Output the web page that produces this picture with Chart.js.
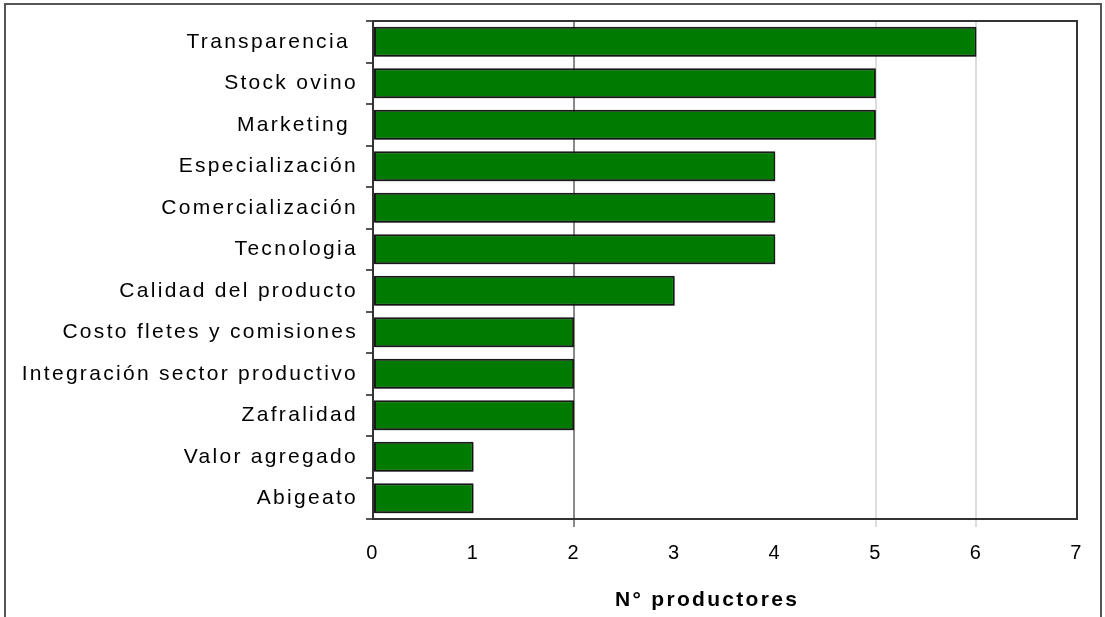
<!DOCTYPE html>
<html>
<head>
<meta charset="utf-8">
<script src="https://cdn.jsdelivr.net/npm/chart.js@4/dist/chart.umd.min.js"></script>
<style>
html,body{margin:0;padding:0;background:#fff;}
#wrap{width:1105px;height:617px;position:relative;}
</style>
</head>
<body>
<div id="wrap"><canvas id="c" width="1105" height="617"></canvas></div>
<script>
const categories = ["Transparencia ","Stock ovino","Marketing ","Especialización","Comercialización","Tecnologia","Calidad del producto","Costo fletes y comisiones","Integración sector productivo","Zafralidad","Valor agregado","Abigeato"];
const productores = [6,5,5,4,4,4,3,2,2,2,1,1];
const xTicks = [0,1,2,3,4,5,6,7];
const axisTitle = "N° productores";

const FONT = 'Liberation Sans, Arial, sans-serif';

const framePlugin = {
  id: 'frame',
  beforeDraw(chart) {
    chart.ctx.letterSpacing = '2.3px';
  },
  beforeDatasetsDraw(chart) {
    const ctx = chart.ctx;
    ctx.save();
    ctx.shadowColor = 'rgba(0,0,0,0.35)';
    ctx.shadowBlur = 2;
    ctx.shadowOffsetX = 1;
    ctx.shadowOffsetY = 1;
  },
  afterDatasetsDraw(chart) {
    chart.ctx.restore();
  },
  afterDraw(chart) {
    const ctx = chart.ctx;
    const a = chart.chartArea;
    ctx.save();
    ctx.strokeStyle = '#333';
    ctx.lineWidth = 2;
    ctx.strokeRect(a.left, a.top, a.right - a.left, a.bottom - a.top);
    ctx.strokeStyle = '#555';
    ctx.lineWidth = 2;
    ctx.beginPath();
    ctx.moveTo(5, 617);
    ctx.lineTo(5, 4);
    ctx.lineTo(1101, 4);
    ctx.lineTo(1101, 617);
    ctx.stroke();
    // x-axis title
    ctx.letterSpacing = '2.3px';
    ctx.fillStyle = '#000';
    ctx.font = 'bold 21px ' + FONT;
    ctx.textAlign = 'left';
    ctx.textBaseline = 'middle';
    ctx.fillText(axisTitle, 615, 600);
    ctx.restore();
  }
};

new Chart(document.getElementById('c'), {
  type: 'bar',
  data: {
    labels: categories,
    datasets: [{
      data: productores,
      backgroundColor: '#007a00',
      borderColor: '#1a1a1a',
      borderWidth: 2,
      borderSkipped: false,
      barPercentage: 0.72,
      categoryPercentage: 1.0
    }]
  },
  options: {
    indexAxis: 'y',
    responsive: false,
    animation: false,
    layout: { padding: { left: 0, right: 28, top: 21, bottom: 0 } },
    plugins: { legend: { display: false }, tooltip: { enabled: false } },
    scales: {
      x: {
        min: 0, max: 7,
        afterBuildTicks(scale) { scale.ticks = xTicks.map(v => ({ value: v })); },
        afterFit(scale) { scale.height = 98; },
        border: { display: false },
        grid: {
          color(ctx) {
            const v = ctx.tick ? ctx.tick.value : null;
            if (v === 2) return '#8a8a8a';
            if (v === 5 || v === 6) return '#dddddd';
            return 'rgba(0,0,0,0)';
          },
          lineWidth: 2,
          tickLength: 8
        },
        ticks: {
          color: '#000',
          font: { family: FONT, size: 20 },
          padding: 14
        },
        title: { display: false }
      },
      y: {
        afterFit(scale) { scale.width = 373; },
        border: { display: false },
        grid: {
          drawOnChartArea: false,
          color: '#555',
          lineWidth: 2,
          tickLength: 7,
          offset: true
        },
        ticks: {
          color: '#000',
          font: { family: FONT, size: 21 },
          padding: 8
        }
      }
    }
  },
  plugins: [framePlugin]
});
</script>
</body>
</html>
